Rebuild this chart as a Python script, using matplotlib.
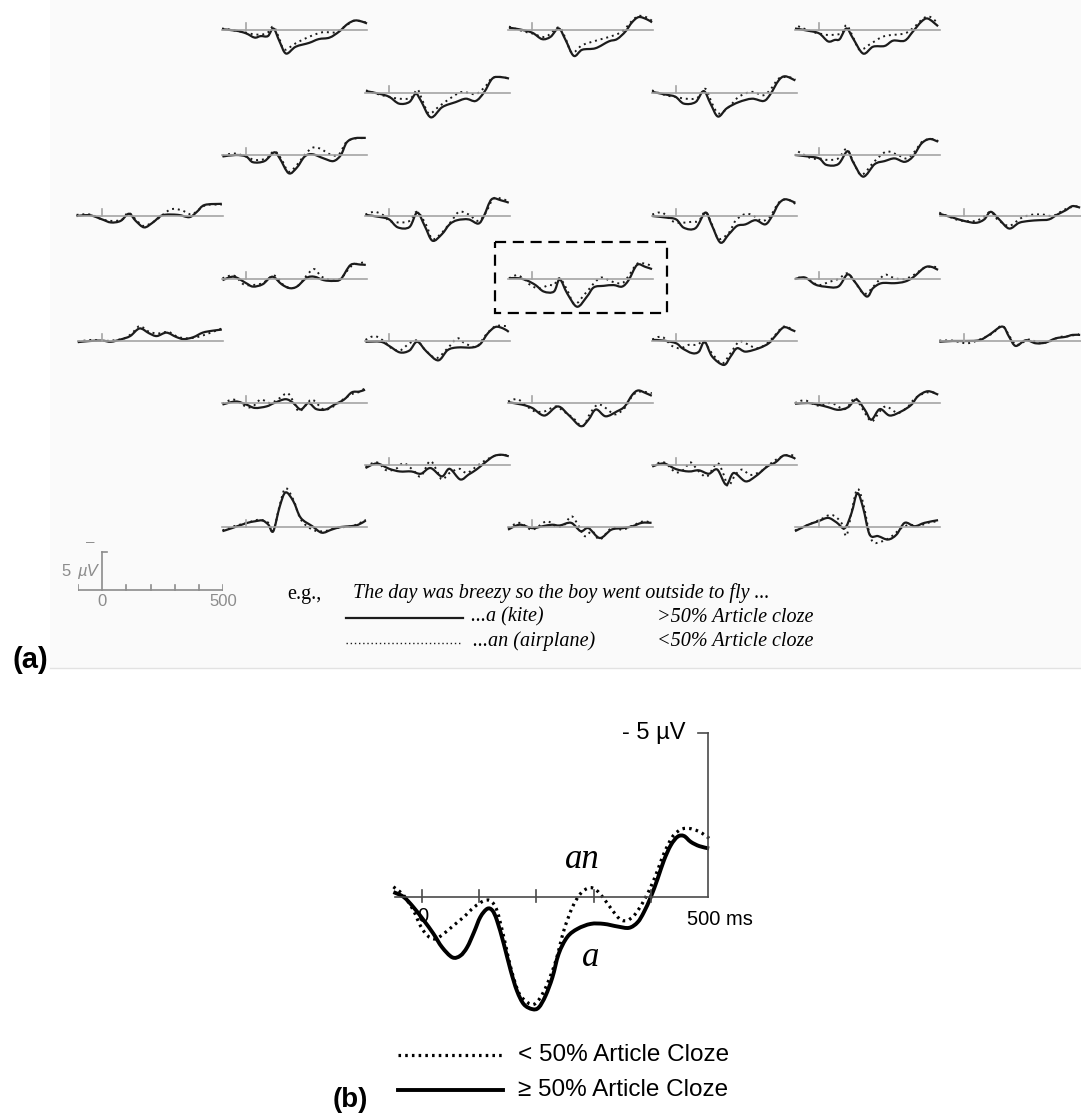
import matplotlib
matplotlib.use("Agg")
import matplotlib.pyplot as plt
import numpy as np
from matplotlib.patches import Rectangle, PathPatch
from matplotlib.path import Path

plt.rcParams['font.family'] = ['Liberation Sans', 'DejaVu Sans']

W, H = 1081, 1116          # output size in px (dpi 100)

# scalp map grid: left edge of each column, baseline of each row (px)
COL_X = [78, 222, 365, 508, 652, 795, 940]
ROW_Y = [30, 93, 155, 216, 279, 341, 403, 465, 527]

# grand averages per site, (ms, uV) pairs, negative plotted up
# _A  = "a" continuations (>50% article cloze), _AN = "an" (<50%)
R1C1_A = [(-100, -0.1), (-40, 0.1), (0, 0.45), (35, 1.0), (60, 0.8), (90, 0.8), (113, -0.2), (138, 1.5), (165, 3.1), (205, 2.2), (260, 1.7), (300, 1.2), (345, 1.0), (385, 0.2), (420, -0.8), (450, -1.25), (480, -1.1), (500, -0.85)]
R1C1_AN = [(-100, -0.2), (-40, 0.1), (0, 0.35), (40, 0.6), (85, 0.45), (113, -0.45), (138, 1.2), (158, 2.6), (205, 1.75), (260, 0.9), (315, 0.3), (370, 0.3), (410, -0.5), (450, -1.25), (500, -0.95)]
R1C3_A = [(-96, -0.3), (-55, -0.1), (0, 0.35), (41, 1.2), (76, 0.9), (110, -0.2), (138, 1.3), (172, 3.4), (207, 2.6), (262, 2.4), (317, 1.5), (351, 1.2), (386, 0.2), (413, -1.0), (441, -1.7), (475, -1.4), (496, -1.0)]
R1C3_AN = [(-96, -0.45), (-34, 0.2), (0, 0.45), (55, 0.9), (110, -0.35), (138, 1.1), (165, 3.0), (207, 2.0), (275, 1.3), (344, 0.65), (379, 0.0), (413, -1.2), (441, -1.85), (475, -1.65), (496, -1.2)]
R1C5_A = [(-100, -0.2), (-45, 0.1), (0, 0.45), (37, 1.5), (65, 1.3), (85, 1.2), (113, -0.2), (140, 1.1), (182, 3.1), (223, 2.2), (271, 2.1), (306, 1.4), (354, 1.4), (388, 0.2), (423, -1.1), (450, -1.5), (492, -0.5)]
R1C5_AN = [(-87, -0.5), (-32, 0.2), (0, 0.45), (37, 0.65), (92, 0.45), (113, -0.65), (140, 0.9), (168, 2.6), (216, 1.75), (271, 0.8), (354, 0.45), (395, -0.45), (430, -1.5), (457, -1.75), (492, -0.9)]

R2C2_A = [(-96, -0.25), (-41, 0.1), (0, 0.5), (41, 1.4), (83, 1.2), (110, 0.1), (131, 1.0), (172, 3.2), (220, 1.85), (275, 1.2), (317, 0.75), (358, 1.05), (393, -0.1), (427, -1.9), (461, -2.1), (496, -1.9)]
R2C2_AN = [(-96, -0.35), (-41, 0.2), (0, 0.5), (41, 0.75), (90, 0.65), (117, -0.45), (138, 1.0), (165, 2.7), (207, 1.75), (262, 0.5), (303, -0.15), (358, 0.15), (399, -0.9), (427, -2.0), (468, -2.1), (496, -1.85)]
R2C4_A = [(-100, -0.15), (-44, 0.2), (-3, 0.5), (32, 1.4), (80, 1.2), (114, -0.25), (142, 1.4), (173, 3.1), (210, 2.0), (259, 1.2), (314, 0.75), (362, 1.05), (389, 0.2), (424, -1.65), (451, -2.2), (493, -1.65)]
R2C4_AN = [(-100, -0.35), (-44, 0.3), (-3, 0.5), (39, 0.75), (87, 0.65), (121, -0.55), (149, 1.4), (176, 2.7), (218, 1.85), (259, 0.5), (314, -0.15), (362, 0.3), (396, -0.7), (424, -1.9), (465, -2.1), (493, -1.75)]

R3C1_A = [(-98, 0.2), (-43, 0.0), (0, 0.2), (28, 0.95), (76, 0.8), (116, -0.35), (139, 0.45), (176, 2.4), (210, 1.65), (242, 0.2), (274, -0.1), (321, 0.45), (361, 0.8), (392, 0.0), (416, -1.65), (448, -2.2), (495, -2.25)]
R3C1_AN = [(-98, 0.1), (-51, -0.2), (0, 0.2), (36, 0.65), (84, 0.45), (116, -0.5), (144, 0.45), (176, 2.2), (210, 1.3), (242, 0.0), (274, -0.95), (305, -0.85), (353, 0.0), (384, -0.1), (416, -1.75), (456, -2.2), (495, -2.2)]
R3C5_A = [(-100, 0.0), (-45, 0.2), (0, 0.45), (30, 1.3), (79, 1.2), (117, -0.5), (140, 0.9), (182, 2.85), (230, 1.2), (271, 0.8), (312, 0.45), (354, 0.9), (388, 0.2), (423, -1.5), (457, -2.1), (492, -1.75)]
R3C5_AN = [(-87, -0.45), (-32, 0.45), (0, 0.45), (37, 0.65), (79, 0.45), (113, -0.8), (140, 0.8), (175, 2.6), (230, 0.8), (278, -0.45), (326, 0.0), (361, 0.45), (395, -0.45), (430, -1.85), (478, -2.1), (492, -1.75)]

R4C0_A = [(-106, 0.0), (-51, -0.1), (0, 0.45), (36, 0.85), (76, 0.65), (111, -0.3), (139, 0.65), (174, 1.5), (210, 0.85), (250, -0.1), (313, -0.15), (361, 0.15), (392, -0.55), (424, -1.45), (495, -1.6)]
R4C0_AN = [(-106, -0.15), (-51, -0.2), (0, 0.45), (44, 0.65), (84, 0.45), (108, -0.45), (139, 0.45), (171, 1.3), (218, 0.65), (282, -0.85), (329, -0.75), (369, -0.2), (400, -0.85), (432, -1.45), (495, -1.5)]
R4C2_A = [(-98, -0.15), (-35, 0.15), (0, 0.45), (36, 1.5), (84, 1.45), (116, -0.45), (147, 1.3), (179, 3.25), (218, 2.4), (250, 1.1), (282, 0.55), (329, 0.45), (369, 1.0), (392, 0.0), (424, -2.2), (464, -2.05), (495, -1.75)]
R4C2_AN = [(-98, -0.2), (-59, -0.55), (-19, 0.0), (0, 0.65), (44, 0.85), (84, 0.65), (116, -0.55), (155, 1.3), (179, 3.05), (218, 2.2), (258, 0.65), (289, -0.55), (329, -0.2), (369, 0.65), (400, -0.45), (432, -2.3), (472, -2.2), (495, -1.85)]
R4C4_A = [(-99, 0.0), (-44, 0.2), (0, 0.45), (32, 1.55), (80, 1.6), (121, -0.45), (146, 1.1), (183, 3.5), (218, 2.4), (252, 1.3), (287, 1.1), (328, 0.55), (369, 1.1), (397, 0.0), (424, -1.6), (452, -2.2), (493, -1.75)]
R4C4_AN = [(-99, -0.2), (-58, -0.45), (-17, 0.65), (18, 0.9), (66, 0.75), (94, 0.65), (121, -0.55), (148, 1.1), (176, 3.0), (218, 2.2), (245, 0.65), (280, -0.2), (314, -0.15), (355, 0.65), (390, 0.0), (424, -1.75), (458, -2.2), (493, -1.6)]
R4C6_A = [(-103, -0.3), (-48, 0.2), (0, 0.65), (48, 0.9), (83, 0.45), (110, -0.55), (145, 0.45), (186, 1.65), (227, 0.9), (268, 0.65), (310, 0.55), (351, 0.45), (386, -0.2), (420, -0.75), (448, -1.3), (480, -1.1)]
R4C6_AN = [(-103, -0.45), (-34, 0.45), (0, 0.65), (48, 0.65), (76, 0.2), (110, -0.55), (138, 0.45), (186, 1.3), (234, 0.3), (276, -0.15), (324, -0.2), (365, 0.0), (399, -0.55), (434, -1.1), (475, -1.3)]

R5C1_A = [(-98, 0.15), (-51, -0.3), (0, 0.55), (28, 1.0), (68, 0.7), (108, -0.3), (147, 0.7), (179, 1.2), (210, 1.0), (250, -0.15), (282, -0.3), (321, 0.15), (361, 0.25), (392, 0.0), (432, -1.85), (472, -1.9), (495, -1.85)]
R5C1_AN = [(-98, -0.1), (-51, -0.45), (-11, 0.7), (21, 0.8), (68, 0.55), (116, -0.45), (155, 0.8), (187, 1.2), (218, 0.8), (258, -0.75), (282, -1.3), (313, -0.3), (353, 0.15), (392, -0.1), (432, -1.6), (464, -2.05), (495, -2.2)]
R5C3_A = [(-96, -0.1), (-55, -0.1), (-21, 0.2), (14, 0.8), (48, 1.65), (90, 1.65), (114, 0.05), (145, 1.9), (186, 3.65), (227, 2.3), (255, 1.1), (296, 0.9), (337, 0.8), (372, 1.0), (399, 0.15), (434, -1.85), (468, -1.6), (496, -1.3)]
R5C3_AN = [(-96, -0.1), (-62, -0.5), (-28, 0.15), (-7, 0.8), (28, 1.25), (69, 0.8), (90, 0.8), (114, -0.1), (145, 1.45), (176, 3.3), (220, 1.9), (262, 0.35), (289, -0.2), (331, 0.35), (372, 0.55), (399, -0.4), (434, -2.0), (468, -2.0), (496, -1.7)]
R5C5_A = [(-100, 0.0), (-59, -0.2), (-18, 0.7), (23, 1.0), (79, 1.0), (117, -0.6), (147, 0.35), (196, 2.3), (223, 1.2), (258, 0.55), (312, 0.55), (354, 0.35), (388, -0.2), (436, -1.5), (464, -1.6), (492, -1.2)]
R5C5_AN = [(-87, -0.2), (-45, 0.0), (-4, 0.8), (44, 0.35), (79, 0.0), (117, -0.75), (147, 0.35), (175, 1.65), (196, 1.9), (230, 0.8), (271, -0.55), (312, -0.1), (354, 0.0), (395, -0.6), (436, -1.5), (478, -1.6), (492, -1.4)]

R6C0_A = [(-101, 0.15), (-51, 0.0), (0, -0.05), (36, 0.1), (76, -0.2), (116, -0.65), (155, -1.65), (195, -1.0), (226, -0.65), (266, -1.1), (305, -0.55), (337, -0.25), (377, -0.5), (416, -1.1), (456, -1.35), (495, -1.5)]
R6C0_AN = [(-101, 0.1), (-43, -0.15), (0, 0.0), (52, -0.1), (92, -0.35), (123, -1.0), (155, -1.95), (195, -1.2), (234, -1.0), (274, -1.2), (313, -0.55), (353, -0.35), (392, -0.5), (432, -0.9), (495, -1.65)]
R6C2_A = [(-98, 0.1), (-35, 0.1), (0, 0.65), (44, 1.5), (84, 1.25), (116, 0.1), (155, 1.4), (203, 2.55), (242, 1.2), (282, 0.85), (345, 0.85), (377, 0.4), (408, -1.0), (440, -1.85), (472, -1.65), (495, -1.2)]
R6C2_AN = [(-98, -0.15), (-59, -0.65), (-19, 0.1), (5, 0.85), (44, 1.25), (84, 0.3), (116, -0.05), (147, 1.1), (195, 2.25), (242, 0.95), (282, -0.35), (313, 0.3), (361, 0.75), (400, -0.8), (440, -1.95), (487, -1.95)]
R6C4_A = [(-99, -0.15), (-51, -0.05), (0, 0.3), (25, 0.95), (66, 1.6), (94, 1.4), (118, 0.1), (149, 2.05), (197, 3.15), (225, 2.05), (252, 0.95), (287, 1.4), (342, 0.95), (383, 0.3), (410, -0.65), (445, -1.8), (479, -1.45), (493, -1.25)]
R6C4_AN = [(-99, -0.2), (-58, -0.55), (-17, 0.65), (18, 0.95), (52, 0.5), (87, 0.5), (114, 0.1), (149, 1.65), (190, 2.95), (225, 1.6), (259, 0.1), (287, 0.3), (335, 0.95), (377, 0.3), (410, -0.8), (445, -1.9), (486, -1.45)]
R6C6_A = [(-103, 0.1), (-48, 0.0), (0, 0.0), (62, -0.1), (103, -0.8), (158, -1.9), (186, -0.55), (213, 0.65), (255, -0.1), (296, 0.3), (337, 0.2), (379, -0.35), (420, -0.55), (448, -0.8), (480, -0.8)]
R6C6_AN = [(-103, -0.05), (-48, -0.05), (14, 0.3), (76, -0.35), (117, -1.0), (158, -2.0), (193, -0.35), (220, 0.5), (269, -0.2), (310, 0.3), (351, 0.1), (393, -0.5), (434, -0.65), (475, -0.9)]

R7C1_A = [(-98, 0.2), (-43, -0.2), (0, 0.2), (36, 0.65), (84, 0.45), (116, 0.0), (163, -0.5), (195, 0.0), (226, 0.85), (258, 0.0), (290, 0.8), (329, 0.85), (366, 0.2), (405, -0.45), (437, -1.4), (468, -1.5), (492, -1.75)]
R7C1_AN = [(-98, 0.1), (-51, -0.45), (0, 0.5), (28, 0.45), (60, -0.45), (100, 0.0), (139, -0.65), (171, -1.3), (195, -0.2), (218, 1.1), (250, 0.2), (274, -0.45), (321, 0.85), (361, 0.45), (400, -0.45), (440, -1.2), (472, -1.5), (495, -2.1)]
R7C3_A = [(-100, -0.1), (-44, 0.2), (0, 0.65), (51, 1.65), (106, 0.45), (153, 1.65), (201, 3.05), (233, 2.2), (264, 0.85), (304, 1.75), (351, 1.1), (383, 0.45), (415, -1.1), (439, -1.65), (470, -1.3), (495, -0.95)]
R7C3_AN = [(-100, -0.2), (-60, -0.5), (-21, 0.45), (11, 1.1), (51, 1.1), (98, 0.45), (130, 1.1), (169, 1.95), (209, 3.05), (241, 1.3), (272, 0.2), (304, 0.65), (343, 1.5), (383, 0.65), (415, -0.95), (446, -1.5), (495, -1.3)]
R7C5_A = [(-100, 0.1), (-45, 0.0), (0, 0.25), (37, 0.55), (79, 0.9), (120, 0.55), (154, -0.45), (189, 0.9), (216, 2.2), (251, 0.8), (292, 1.65), (340, 1.1), (381, 0.25), (409, -0.9), (450, -1.55), (492, -1.1)]
R7C5_AN = [(-100, 0.0), (-59, -0.35), (-4, 0.35), (51, 0.0), (106, 0.8), (147, -0.65), (175, 0.55), (216, 2.4), (251, 1.1), (278, 0.45), (326, 1.3), (368, 0.45), (395, -0.55), (436, -1.3), (471, -1.4), (492, -1.1)]

R8C2_A = [(-98, 0.4), (-51, -0.2), (0, 0.5), (44, 0.85), (92, 0.85), (131, 1.15), (171, 0.4), (218, 1.5), (250, 0.5), (294, 1.9), (329, 1.25), (361, 0.6), (392, -0.2), (432, -1.15), (464, -1.35), (495, -1.15)]
R8C2_AN = [(-98, 0.2), (-51, -0.35), (-11, 0.7), (28, 0.5), (60, -0.25), (100, 0.7), (131, 1.5), (168, -0.5), (195, 0.6), (218, 1.9), (250, 1.05), (290, 0.5), (321, 1.05), (361, 0.2), (392, -0.5), (432, -1.15), (472, -1.35), (495, -1.15)]
R8C4_A = [(-99, 0.2), (-51, -0.2), (0, 0.55), (52, 0.85), (94, 0.7), (135, 1.15), (170, 0.6), (207, 2.6), (238, 1.05), (287, 2.15), (328, 1.5), (377, 0.2), (411, -0.35), (445, -1.25), (479, -1.05), (493, -0.8)]
R8C4_AN = [(-99, 0.1), (-51, -0.35), (-3, 0.95), (32, 0.6), (59, -0.35), (94, 0.85), (128, 1.5), (170, -0.25), (197, 1.3), (215, 2.8), (245, 1.3), (273, 0.6), (307, 1.3), (349, 0.85), (383, 0.0), (424, -0.9), (465, -1.35), (493, -1.15)]

R9C1_A = [(-98, 0.55), (-59, 0.15), (0, -0.5), (36, -0.75), (68, -0.85), (92, -0.3), (112, 0.55), (139, -2.7), (163, -4.55), (195, -3.4), (226, -1.2), (274, -0.1), (313, 0.75), (353, 0.35), (392, 0.0), (432, -0.1), (464, -0.3), (495, -0.85)]
R9C1_AN = [(-98, 0.45), (-51, -0.1), (0, -0.5), (52, -0.95), (92, -0.55), (112, 0.55), (139, -2.9), (163, -5.1), (195, -3.6), (226, -1.0), (274, 0.35), (321, 0.55), (369, 0.15), (408, 0.0), (448, -0.2), (495, -0.95)]
R9C3_A = [(-100, 0.35), (-52, -0.3), (0, 0.15), (43, -0.1), (82, -0.3), (114, -0.2), (161, -0.55), (201, 0.55), (233, 0.15), (280, 1.45), (328, 0.35), (375, 0.15), (415, -0.1), (454, -0.55), (494, -0.55)]
R9C3_AN = [(-100, 0.15), (-52, -0.55), (0, 0.35), (59, -0.75), (98, -0.1), (130, -0.2), (161, -1.4), (185, -0.55), (217, 1.2), (248, 0.55), (280, 1.65), (328, 0.15), (375, 0.35), (423, -0.3), (462, -0.75), (494, -0.55)]
R9C5_A = [(-100, 0.55), (-45, -0.3), (-4, -0.75), (37, -1.2), (72, -0.6), (106, 0.15), (134, -1.85), (158, -4.45), (182, -2.5), (209, 1.0), (244, 1.2), (285, 1.65), (320, 1.0), (354, -0.55), (395, -0.1), (436, -0.55), (492, -0.9)]
R9C5_AN = [(-100, 0.45), (-45, -0.3), (3, -0.95), (51, -1.6), (92, -0.55), (113, 1.15), (136, -2.3), (158, -5.0), (182, -3.15), (216, 1.65), (258, 1.9), (299, 1.25), (340, 0.15), (375, -0.3), (409, -0.1), (450, -0.55), (492, -0.75)]

# (row, column, a, an)
SITES = [
    (0, 1, R1C1_A, R1C1_AN), (0, 3, R1C3_A, R1C3_AN), (0, 5, R1C5_A, R1C5_AN),
    (1, 2, R2C2_A, R2C2_AN), (1, 4, R2C4_A, R2C4_AN),
    (2, 1, R3C1_A, R3C1_AN), (2, 5, R3C5_A, R3C5_AN),
    (3, 0, R4C0_A, R4C0_AN), (3, 2, R4C2_A, R4C2_AN), (3, 4, R4C4_A, R4C4_AN), (3, 6, R4C6_A, R4C6_AN),
    (4, 1, R5C1_A, R5C1_AN), (4, 3, R5C3_A, R5C3_AN), (4, 5, R5C5_A, R5C5_AN),
    (5, 0, R6C0_A, R6C0_AN), (5, 2, R6C2_A, R6C2_AN), (5, 4, R6C4_A, R6C4_AN), (5, 6, R6C6_A, R6C6_AN),
    (6, 1, R7C1_A, R7C1_AN), (6, 3, R7C3_A, R7C3_AN), (6, 5, R7C5_A, R7C5_AN),
    (7, 2, R8C2_A, R8C2_AN), (7, 4, R8C4_A, R8C4_AN),
    (8, 1, R9C1_A, R9C1_AN), (8, 3, R9C3_A, R9C3_AN), (8, 5, R9C5_A, R9C5_AN),
]

# panel (b): enlarged midline site
B_A = [(-50, -0.15), (-32, 0.0), (-15, 0.31), (3, 0.71), (20, 1.12), (35, 1.53), (53, 1.84), (67, 1.79), (79, 1.53), (91, 1.07), (102, 0.61), (114, 0.36), (123, 0.41), (131, 0.71), (143, 1.43), (155, 2.24), (166, 2.86), (178, 3.27), (193, 3.42), (204, 3.37), (216, 3.01), (228, 2.45), (239, 1.73), (254, 1.22), (272, 0.97), (295, 0.82), (318, 0.82), (342, 0.9), (362, 0.94), (377, 0.77), (388, 0.46), (400, 0.0), (412, -0.56), (423, -1.12), (435, -1.58), (447, -1.84), (458, -1.86), (470, -1.68), (485, -1.55), (502, -1.48)]
B_AN = [(-50, -0.31), (-32, -0.05), (-15, 0.41), (-3, 0.87), (9, 1.17), (23, 1.28), (38, 1.12), (55, 0.87), (73, 0.61), (91, 0.31), (108, 0.12), (120, 0.12), (131, 0.41), (143, 1.22), (155, 2.14), (169, 2.91), (184, 3.21), (196, 3.27), (207, 3.06), (219, 2.65), (234, 1.94), (248, 1.02), (263, 0.31), (277, -0.1), (292, -0.28), (304, -0.22), (318, 0.05), (333, 0.41), (347, 0.69), (359, 0.71), (371, 0.56), (385, 0.2), (400, -0.31), (412, -0.82), (423, -1.33), (438, -1.84), (453, -2.06), (467, -2.09), (485, -1.99), (502, -1.79)]
B_TICKS = [0, 100, 200, 300, 400]

INK = '#1c1c1c'
GREY = '#a4a4a4'
SERIF = ['Liberation Serif', 'DejaVu Serif']


def px_axes(fig, left, top, width, height, z=1):
    ax = fig.add_axes([left / W, 1 - (top + height) / H, width / W, height / H], zorder=z)
    ax.set_axis_off()
    ax.patch.set_alpha(0)
    return ax


def wave(ax, pairs, **kw):
    # smooth trace through the sampled points (Catmull-Rom as cubic Beziers)
    pts = np.array(pairs, dtype=float)
    n = len(pts)
    verts, codes = [pts[0]], [Path.MOVETO]
    for i in range(n - 1):
        p0, p1 = pts[max(i - 1, 0)], pts[i]
        p2, p3 = pts[i + 1], pts[min(i + 2, n - 1)]
        verts += [p1 + (p2 - p0) / 6, p2 - (p3 - p1) / 6, p2]
        codes += [Path.CURVE4] * 3
    ax.add_patch(PathPatch(Path(verts, codes), fill=False, clip_on=False,
                           joinstyle='round', **kw))


fig = plt.figure(figsize=(W / 100, H / 100), dpi=100)

# page-level layer in pixel units for the panel frame and legends
page = px_axes(fig, 0, 0, W, H, z=0)
page.set_xlim(0, W)
page.set_ylim(H, 0)
page.add_patch(Rectangle((50, 0), W - 50, 668, facecolor='#fafafa', edgecolor='none'))
page.plot([50, W], [668, 668], color='#e2e2e2', lw=1)

# ---- panel (a): scalp map ----
UV_PX = 7.6          # px per microvolt
SPAN = 6.0
for row, col, a, an in SITES:
    ax = px_axes(fig, COL_X[col], ROW_Y[row] - SPAN * UV_PX, 145, 2 * SPAN * UV_PX)
    ax.set_xlim(-100, 500)
    ax.set_ylim(SPAN, -SPAN)
    ax.plot([-100, 500], [0, 0], color=GREY, lw=1.2, clip_on=False)
    ax.plot([0, 0], [0, -0.9], color=GREY, lw=1.2)
    wave(ax, an, edgecolor=INK, lw=1.4, linestyle=(0, (1, 2)))
    wave(ax, a, edgecolor=INK, lw=1.6)

# dashed frame around the site enlarged in (b)
page.add_patch(Rectangle((495, 242), 172, 71, fill=False, edgecolor='black',
                         lw=1.6, linestyle=(0, (5, 3))))

# calibration bar
cal = px_axes(fig, COL_X[0], 590 - SPAN * UV_PX, 145, 2 * SPAN * UV_PX)
cal.set_xlim(-100, 500)
cal.set_ylim(SPAN, -SPAN)
cal_col = '#8c8c8c'
cal.plot([-100, 500], [0, 0], color=cal_col, lw=1.2)
cal.plot([0, 0], [0, -5], color=cal_col, lw=1.2)
cal.plot([0, 18], [-5, -5], color=cal_col, lw=1.2)
for tk in [-100, 100, 200, 300, 400, 500]:
    cal.plot([tk, tk], [0, -0.7], color=cal_col, lw=1.2)
cal.text(-50, -6.3, '–', color=cal_col, fontsize=11, ha='center', va='center')
cal.text(-150, -2.4, '5', color=cal_col, fontsize=12, ha='center', va='center')
cal.text(-62, -2.4, 'µV', color=cal_col, fontsize=12, style='italic', ha='center', va='center')
cal.text(0, 1.45, '0', color=cal_col, fontsize=12, ha='center', va='center')
cal.text(500, 1.45, '500', color=cal_col, fontsize=12, ha='center', va='center')

# example sentence / condition key
page.text(287, 595, 'e.g.,', family=SERIF, fontsize=14.5, ha='left', va='center')
page.text(353, 593, 'The day was breezy so the boy went outside to fly ...', family=SERIF,
          style='italic', fontsize=14.5, ha='left', va='center')
page.plot([346, 463], [618, 618], color=INK, lw=1.6)
page.plot([346, 460], [643, 643], color=INK, lw=1.0, linestyle=(0, (1, 2)))
page.text(471, 617, '...a (kite)', family=SERIF, style='italic', fontsize=14.5, ha='left', va='center')
page.text(473, 641, '...an (airplane)', family=SERIF, style='italic', fontsize=14.5, ha='left', va='center')
page.text(657, 617, '>50% Article cloze', family=SERIF, style='italic', fontsize=14.5, ha='left', va='center')
page.text(657, 641, '<50% Article cloze', family=SERIF, style='italic', fontsize=14.5, ha='left', va='center')

page.text(12, 660, '(a)', fontsize=21, fontweight='bold', ha='left', va='center')

# ---- panel (b): single site ----
B_MS_PX = 0.572      # px per ms
B_UV_PX = 32.8       # px per microvolt
x0_px, y0_px = 422, 897
bx = px_axes(fig, x0_px - 60 * B_MS_PX, y0_px - 5.5 * B_UV_PX, 580 * B_MS_PX, 10 * B_UV_PX)
bx.set_xlim(-60, 520)
bx.set_ylim(4.5, -5.5)
ax_col = '#4a4a4a'
bx.plot([-48, 500], [0, 0], color=ax_col, lw=1.2)
for tk in B_TICKS:
    bx.plot([tk, tk], [0.15, -0.22], color=ax_col, lw=1.2)
bx.plot([500, 500], [0, -5], color=ax_col, lw=1.2)
bx.plot([483, 500], [-5, -5], color=ax_col, lw=1.2)
bx.text(460, -5, '- 5 µV', fontsize=17, ha='right', va='center')
bx.text(463, 0.7, '500 ms', fontsize=14.5, ha='left', va='center')
bx.text(2, 0.6, '0', fontsize=14.5, ha='center', va='center')

wave(bx, B_AN, edgecolor='black', lw=2.3, linestyle=(0, (0.8, 1.3)))
wave(bx, B_A, edgecolor='black', lw=2.8)

bx.text(280, -1.13, 'an', family=SERIF, style='italic', fontsize=25, ha='center', va='center')
bx.text(294, 1.83, 'a', family=SERIF, style='italic', fontsize=25, ha='center', va='center')

page.plot([398, 503], [1055, 1055], color='black', lw=2.3, linestyle=(0, (0.8, 1.3)))
page.plot([398, 503], [1090, 1090], color='black', lw=2.8)
page.text(518, 1055, '< 50% Article Cloze', fontsize=17.5, ha='left', va='center')
page.text(518, 1090, '≥ 50% Article Cloze', fontsize=17.5, ha='left', va='center')

page.text(333, 1100, '(b)', fontsize=20, fontweight='bold', ha='left', va='center')

fig.savefig('out.png', dpi=100, facecolor='white')
